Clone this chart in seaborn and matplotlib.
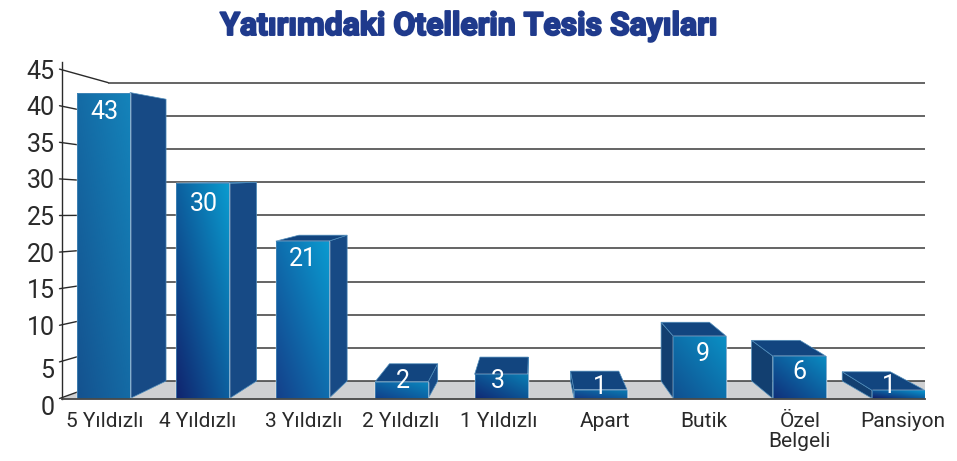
# ==========================================================
# Yatirimdaki Otellerin Tesis Sayilari - fake 3D bar chart
# ==========================================================

import numpy as np
import pandas as pd
import matplotlib
matplotlib.use("Agg")
import matplotlib.pyplot as plt
import matplotlib.colors as mcolors
import matplotlib.patheffects as pe
from matplotlib.patches import Polygon
from matplotlib.transforms import ScaledTranslation
import seaborn as sns

# ==========================================================
# Data
# ==========================================================

categories = ["5 Yıldızlı", "4 Yıldızlı", "3 Yıldızlı", "2 Yıldızlı", "1 Yıldızlı",
              "Apart", "Butik", "Özel\nBelgeli", "Pansiyon"]
labels = [43, 30, 21, 2, 3, 1, 9, 6, 1]
# bar heights as read against the axis (the artwork does not follow the labels exactly)
heights = [41.8, 29.4, 21.5, 2.3, 3.3, 1.2, 8.5, 5.8, 1.1]
y_ticks = [0, 5, 10, 15, 20, 25, 30, 35, 40, 45]

# ==========================================================
# Style / layout
# ==========================================================

W, H = 957, 461
PX_X = 99.4          # pixels per category
PX_Y = 7.32          # pixels per unit, front plane
DEPTH_X = 0.911      # back plane shrink towards the vanishing point
DEPTH_Y = 0.915
VP_X = 4.341
FLOOR_Y = 2.39       # back edge of the floor
BAR_BACK = 2.64
GRID_K = 0.906
WALL_X = 0.045

low_colors = ["#14528f", "#10246e", "#14408a", "#10408a", "#102a75",
              "#143a85", "#105090", "#10307a", "#10206a"]
high_colors = ["#1483ba", "#0a9bcf", "#0a9ad0", "#0a88bf", "#0a80b5",
               "#0880b5", "#0a90c5", "#0a8cc2", "#08a0d8"]
side_color = "#174a85"
top_color = "#12457f"
left_color = "#123f70"
edge_color = "#4f8dbb"

value_dx = [0.5, 1, 0.5, 1.5, -3.5, -0.5, 2.5, 0.5, -10]
value_dy = [19, 21, 18, -1, 7, -3, 18, 16, -4]
cat_dx = [1.5, -5, 1.5, -1, -2.5, 4.5, 3.5, 0.5, 4.5]
ytick_dy = [7, 7, 0, 0, 0, 0, 0, 0, 0, 0]

sns.set_theme(style="white")
plt.rcParams["font.family"] = ["Roboto", "Liberation Sans", "DejaVu Sans"]

fig = plt.figure(figsize=(W / 100, H / 100), dpi=100)
ax = fig.add_axes([61.5 / W, (H - 398.5) / H, (925 - 61.5) / W, (398.5 - 62) / H])

df = pd.DataFrame({"kategori": categories, "tesis": heights})
sns.barplot(data=df, x="kategori", y="tesis", width=0.533, color=high_colors[0],
            saturation=1, ax=ax, zorder=5)
x_left = -42 / PX_X
x_right = (925 - 103.5) / PX_X
y_top = (398.5 - 62) / PX_Y
ax.set_xlabel("")
ax.set_ylabel("")


def back_x(x):
    return VP_X + DEPTH_X * (x - VP_X)


def back_y(y):
    return BAR_BACK + DEPTH_Y * y


# ==========================================================
# Floor and back wall
# ==========================================================

ax.add_patch(Polygon([(x_left, 0), (WALL_X, FLOOR_Y), (x_right, FLOOR_Y), (x_right, 0)],
                     closed=True, facecolor="#cfd0d2", edgecolor="none", zorder=1))
for v in y_ticks:
    gy = FLOOR_Y + v * GRID_K
    ax.plot([WALL_X, x_right], [gy, gy], color="#3a3a3a", lw=1.1, zorder=2, solid_capstyle="butt")
    ax.plot([x_left - 2 / PX_X, WALL_X], [v, gy], color="#2a2a2a", lw=1.0, zorder=2, clip_on=False)

# ==========================================================
# Bars: gradient front plus side and top faces
# ==========================================================

for i, bar in enumerate(ax.containers[0]):
    x0, x1 = bar.get_x(), bar.get_x() + bar.get_width()
    h = bar.get_height()
    bx0, bx1 = back_x(x0), back_x(x1)
    by0, byh = FLOOR_Y, back_y(h)

    if bx1 > x1:
        ax.add_patch(Polygon([(x1, 0), (bx1, by0), (bx1, byh), (x1, h)], closed=True,
                             facecolor=side_color, edgecolor=edge_color, lw=0.5, zorder=3))
    if bx0 < x0:
        ax.add_patch(Polygon([(x0, 0), (bx0, by0), (bx0, byh), (x0, h)], closed=True,
                             facecolor=left_color, edgecolor=edge_color, lw=0.5, zorder=3))
    if byh > h:
        ax.add_patch(Polygon([(x0, h), (x1, h), (bx1, byh), (bx0, byh)], closed=True,
                             facecolor=top_color, edgecolor=edge_color, lw=0.5, zorder=4))

    u, v = np.meshgrid(np.linspace(0, 1, 48), np.linspace(0, 1, 48))
    t = ((u + v) / 2)[..., None]
    low = np.array(mcolors.to_rgb(low_colors[i]))
    high = np.array(mcolors.to_rgb(high_colors[i]))
    img = ax.imshow(low + (high - low) * t, extent=(x0, x1, 0, h), origin="lower",
                    aspect="auto", zorder=6, interpolation="bilinear")
    img.set_clip_path(bar)
    ax.add_patch(Polygon([(x0, 0), (x1, 0), (x1, h), (x0, h)], closed=True, fill=False,
                         edgecolor=edge_color, lw=0.5, zorder=7))

    off = ScaledTranslation(value_dx[i] / 100, -value_dy[i] / 100, fig.dpi_scale_trans)
    ax.text(bar.get_x() + bar.get_width() / 2, h, str(labels[i]), color="white", fontsize=18,
            ha="center", va="center", zorder=8, transform=ax.transData + off)

# ==========================================================
# Axes
# ==========================================================

ax.set_xlim(x_left, x_right)
ax.set_ylim(0, y_top)
ax.set_yticks(y_ticks)
ax.tick_params(axis="both", length=0)
ax.tick_params(axis="x", labelsize=15, labelcolor="#2a2a2a", pad=10)
ax.tick_params(axis="y", labelsize=18, labelcolor="#2a2a2a", pad=5)
for tick_label, dx in zip(ax.get_xticklabels(), cat_dx):
    tick_label.set_linespacing(1.05)
    tick_label.set_transform(tick_label.get_transform()
                             + ScaledTranslation(dx / 100, 0, fig.dpi_scale_trans))
for tick_label, dy in zip(ax.get_yticklabels(), ytick_dy):
    tick_label.set_transform(tick_label.get_transform()
                             + ScaledTranslation(0, -dy / 100, fig.dpi_scale_trans))

sns.despine(ax=ax, top=True, right=True)
ax.spines["left"].set_color("#2a2a2a")
ax.spines["left"].set_linewidth(1.0)
ax.spines["bottom"].set_color("#444444")
ax.spines["bottom"].set_linewidth(1.3)
ax.spines["bottom"].set_zorder(9)

# ==========================================================
# Title
# ==========================================================

fig.text(470 / W, 1 - 26 / H, "Yatırımdaki Otellerin Tesis Sayıları", color="#1f3a8c",
         fontsize=23, fontweight="bold", ha="center", va="center",
         path_effects=[pe.withStroke(linewidth=1.4, foreground="#1f3a8c")])

fig.savefig("out.png", dpi=100)
